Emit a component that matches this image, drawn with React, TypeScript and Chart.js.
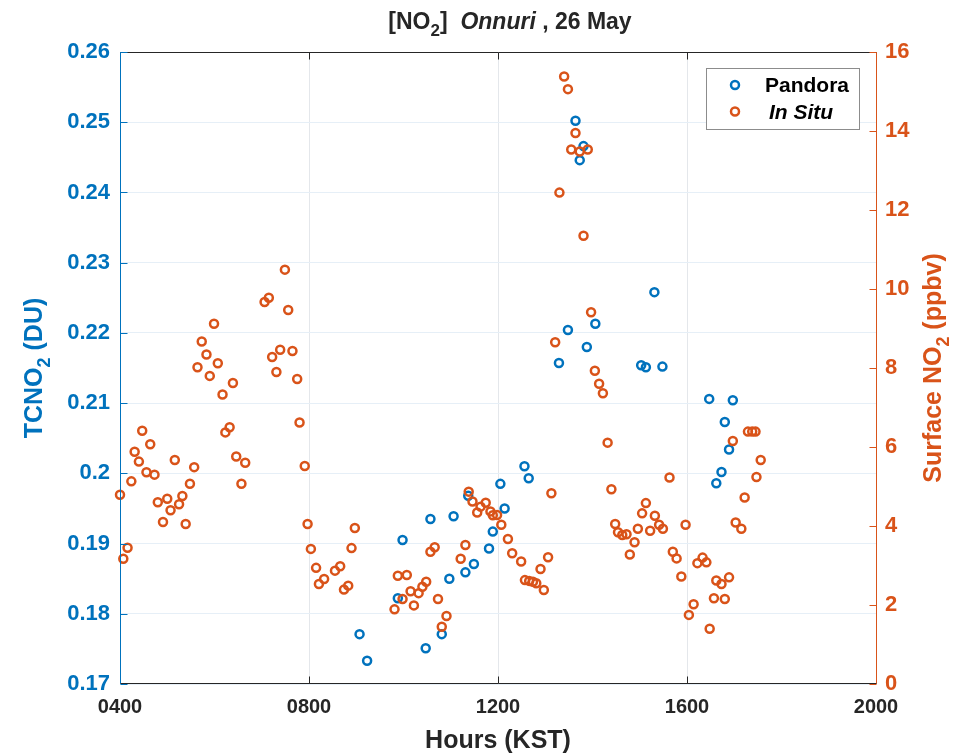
import React, { useEffect, useRef } from "react";
import { Chart, registerables } from "chart.js";

Chart.register(...registerables);

const BLUE = "#0072BD";
const ORANGE = "#D95319";
const DARK = "#262626";
const FONT = '"Liberation Sans", Arial, Helvetica, sans-serif';

// Pandora total-column NO2 (DU) vs. hour of day (KST)
const pandoraHours = [
  9.07, 9.23, 9.88, 9.98, 10.47, 10.57, 10.81, 10.97, 11.06, 11.31, 11.37, 11.49,
  11.81, 11.89, 12.05, 12.14, 12.56, 12.65, 13.29, 13.48, 13.64, 13.73, 13.81, 13.88,
  14.06, 15.03, 15.13, 15.31, 15.48, 16.47, 16.62, 16.73, 16.8, 16.89, 16.97,
];
const pandoraTcno2 = [
  0.1771, 0.1733, 0.1822, 0.1905, 0.1751, 0.1935, 0.1771, 0.185, 0.1939, 0.1859, 0.1968, 0.1871,
  0.1893, 0.1917, 0.1985, 0.195, 0.201, 0.1993, 0.2157, 0.2204, 0.2502, 0.2446, 0.2466, 0.218,
  0.2213, 0.2154, 0.2151, 0.2258, 0.2152, 0.2106, 0.1986, 0.2002, 0.2073, 0.2034, 0.2104,
];

// In situ surface NO2 (ppbv) vs. hour of day (KST)
const inSituHours = [
  4.0, 4.07, 4.16, 4.24, 4.31, 4.4, 4.47, 4.56, 4.64, 4.73, 4.8, 4.91, 5.0, 5.07, 5.16, 5.25,
  5.32, 5.39, 5.48, 5.57, 5.64, 5.73, 5.83, 5.9, 5.99, 6.07, 6.17, 6.23, 6.32, 6.39, 6.46, 6.57,
  6.65, 7.06, 7.15, 7.22, 7.31, 7.39, 7.49, 7.56, 7.65, 7.75, 7.8, 7.91, 7.97, 8.04, 8.15, 8.21,
  8.32, 8.55, 8.66, 8.74, 8.83, 8.9, 8.97, 9.81, 9.88, 9.98, 10.07, 10.15, 10.22, 10.32, 10.4,
  10.48, 10.57, 10.66, 10.73, 10.81, 10.91, 11.21, 11.31, 11.38, 11.46, 11.56, 11.63, 11.74,
  11.84, 11.89, 11.98, 12.07, 12.21, 12.3, 12.49, 12.57, 12.66, 12.74, 12.81, 12.9, 12.97,
  13.06, 13.13, 13.21, 13.3, 13.4, 13.48, 13.55, 13.64, 13.73, 13.81, 13.9, 13.97, 14.05,
  14.14, 14.22, 14.32, 14.4, 14.48, 14.54, 14.63, 14.72, 14.79, 14.89, 14.96, 15.05, 15.13,
  15.22, 15.32, 15.41, 15.49, 15.63, 15.7, 15.78, 15.88, 15.97, 16.04, 16.14, 16.22, 16.33,
  16.41, 16.48, 16.57, 16.62, 16.73, 16.8, 16.89, 16.97, 17.03, 17.15, 17.22, 17.29, 17.38,
  17.45, 17.47, 17.56,
];
const inSituNo2 = [
  4.79, 3.17, 3.45, 5.13, 5.88, 5.63, 6.41, 5.36, 6.07, 5.3, 4.6, 4.1, 4.69, 4.4, 5.67, 4.55,
  4.76, 4.05, 5.07, 5.49, 8.02, 8.67, 8.34, 7.8, 9.12, 8.12, 7.33, 6.37, 6.5, 7.62, 5.76, 5.07,
  5.6, 9.67, 9.78, 8.28, 7.9, 8.46, 10.49, 9.47, 8.43, 7.72, 6.62, 5.52, 4.05, 3.42, 2.94, 2.53,
  2.66, 2.87, 2.98, 2.39, 2.49, 3.44, 3.95, 1.89, 2.74, 2.15, 2.76, 2.35, 1.99, 2.3, 2.46,
  2.59, 3.35, 3.46, 2.15, 1.45, 1.72, 3.17, 3.52, 4.87, 4.62, 4.34, 4.49, 4.59,
  4.37, 4.27, 4.28, 4.03, 3.67, 3.31, 3.1, 2.63, 2.61, 2.59, 2.55, 2.91, 2.38,
  3.21, 4.83, 8.65, 12.44, 15.38, 15.06, 13.53, 13.95, 13.48, 11.35, 13.53, 9.41, 7.93,
  7.6, 7.36, 6.11, 4.93, 4.05, 3.84, 3.77, 3.79, 3.28, 3.59, 3.93, 4.32, 4.58,
  3.88, 4.26, 4.03, 3.93, 5.23, 3.35, 3.18, 2.72, 4.03, 1.75, 2.02, 3.06, 3.2,
  3.08, 1.4, 2.17, 2.62, 2.53, 2.15, 2.7, 6.15, 4.09, 3.93, 4.72, 6.39, 6.39,
  6.39, 5.24, 5.67,
];

const hourTicks = [4, 8, 12, 16, 20];
const hourTickLabels = ["0400", "0800", "1200", "1600", "2000"];
const tcno2Ticks = [0.17, 0.18, 0.19, 0.2, 0.21, 0.22, 0.23, 0.24, 0.25, 0.26];
const no2Ticks = [0, 2, 4, 6, 8, 10, 12, 14, 16];

type Seg = { text: string; italic?: boolean; sub?: boolean };

function drawRich(
  ctx: CanvasRenderingContext2D,
  segs: Seg[],
  x: number,
  y: number,
  size: number,
  color: string,
  align: "center" | "left"
) {
  const fontOf = (s: Seg) =>
    `${s.italic ? "italic " : ""}bold ${s.sub ? Math.round(size * 0.72) : size}px ${FONT}`;
  let total = 0;
  for (const s of segs) {
    ctx.font = fontOf(s);
    total += ctx.measureText(s.text).width;
  }
  let cx = align === "center" ? x - total / 2 : x;
  ctx.textAlign = "left";
  ctx.textBaseline = "alphabetic";
  ctx.fillStyle = color;
  for (const s of segs) {
    ctx.font = fontOf(s);
    ctx.fillText(s.text, cx, s.sub ? y + size * 0.32 : y);
    cx += ctx.measureText(s.text).width;
  }
}

function circle(ctx: CanvasRenderingContext2D, x: number, y: number, color: string) {
  ctx.beginPath();
  ctx.arc(x, y, 4, 0, Math.PI * 2);
  ctx.strokeStyle = color;
  ctx.lineWidth = 2.5;
  ctx.stroke();
}

const framePlugin = {
  id: "frameAndLabels",
  afterDraw(chart: any) {
    const { ctx, chartArea: a, scales } = chart;
    const L = Math.round(a.left) + 0.5;
    const R = Math.round(a.right) + 0.5;
    const T = Math.round(a.top) + 0.5;
    const B = Math.round(a.bottom) - 0.5;
    const tick = 7;
    ctx.save();
    ctx.lineWidth = 1;

    // x ticks, pointing inward at bottom and top
    ctx.strokeStyle = DARK;
    for (const v of hourTicks) {
      const px = Math.round(scales.x.getPixelForValue(v)) + 0.5;
      ctx.beginPath();
      ctx.moveTo(px, B);
      ctx.lineTo(px, B - tick);
      ctx.moveTo(px, T);
      ctx.lineTo(px, T + tick);
      ctx.stroke();
    }
    ctx.beginPath();
    ctx.moveTo(L, T);
    ctx.lineTo(R, T);
    ctx.moveTo(L, B);
    ctx.lineTo(R, B);
    ctx.stroke();

    // left axis
    ctx.strokeStyle = BLUE;
    ctx.beginPath();
    ctx.moveTo(L, T);
    ctx.lineTo(L, B);
    for (const v of tcno2Ticks) {
      const py = Math.round(scales.yL.getPixelForValue(v)) + 0.5;
      ctx.moveTo(L, py);
      ctx.lineTo(L + tick, py);
    }
    ctx.stroke();

    // right axis
    ctx.strokeStyle = ORANGE;
    ctx.beginPath();
    ctx.moveTo(R, T);
    ctx.lineTo(R, B);
    for (const v of no2Ticks) {
      const py = Math.round(scales.yR.getPixelForValue(v)) + 0.5;
      ctx.moveTo(R, py);
      ctx.lineTo(R - tick, py);
    }
    ctx.stroke();

    const midX = (a.left + a.right) / 2;
    const midY = (a.top + a.bottom) / 2;

    // title
    drawRich(
      ctx,
      [
        { text: "[NO" },
        { text: "2", sub: true },
        { text: "]  " },
        { text: "Onnuri", italic: true },
        { text: " , 26 May" },
      ],
      510,
      29,
      23,
      DARK,
      "center"
    );

    // x axis title
    drawRich(ctx, [{ text: "Hours (KST)" }], midX, 748, 25, DARK, "center");

    // left axis title
    ctx.save();
    ctx.translate(42, midY);
    ctx.rotate(-Math.PI / 2);
    drawRich(
      ctx,
      [{ text: "TCNO" }, { text: "2", sub: true }, { text: " (DU)" }],
      0,
      0,
      25,
      BLUE,
      "center"
    );
    ctx.restore();

    // right axis title
    ctx.save();
    ctx.translate(941, midY);
    ctx.rotate(-Math.PI / 2);
    drawRich(
      ctx,
      [{ text: "Surface NO" }, { text: "2", sub: true }, { text: " (ppbv)" }],
      0,
      0,
      25,
      ORANGE,
      "center"
    );
    ctx.restore();

    // legend
    const lx = 706.5;
    const ly = 68.5;
    ctx.fillStyle = "#ffffff";
    ctx.fillRect(lx, ly, 153, 61);
    ctx.strokeStyle = "#8c8c8c";
    ctx.lineWidth = 1;
    ctx.strokeRect(lx, ly, 153, 61);
    circle(ctx, 735, 85, BLUE);
    circle(ctx, 735, 111.5, ORANGE);
    drawRich(ctx, [{ text: "Pandora" }], 765, 92, 21, "#000000", "left");
    drawRich(ctx, [{ text: "In Situ", italic: true }], 769, 119, 21, "#000000", "left");

    ctx.restore();
  },
};

export default function App() {
  const canvasRef = useRef<HTMLCanvasElement | null>(null);

  useEffect(() => {
    if (!canvasRef.current) return;
    const chart = new Chart(canvasRef.current, {
      type: "scatter",
      data: {
        datasets: [
          {
            label: "In Situ",
            data: inSituHours.map((h, i) => ({ x: h, y: inSituNo2[i] })),
            yAxisID: "yR",
            borderColor: ORANGE,
            backgroundColor: "rgba(0,0,0,0)",
            pointRadius: 4,
            pointHoverRadius: 4,
            pointBorderWidth: 2.5,
            clip: false,
            order: 0,
          },
          {
            label: "Pandora",
            data: pandoraHours.map((h, i) => ({ x: h, y: pandoraTcno2[i] })),
            yAxisID: "yL",
            borderColor: BLUE,
            backgroundColor: "rgba(0,0,0,0)",
            pointRadius: 4,
            pointHoverRadius: 4,
            pointBorderWidth: 2.5,
            clip: false,
            order: 1,
          },
        ],
      },
      options: {
        animation: false,
        responsive: false,
        maintainAspectRatio: false,
        events: [],
        layout: { padding: { top: 52, left: 0, right: 0, bottom: 0 } },
        plugins: {
          legend: { display: false },
          title: { display: false },
          tooltip: { enabled: false },
        },
        scales: {
          x: {
            type: "linear",
            position: "bottom",
            min: 4,
            max: 20,
            afterBuildTicks: (s: any) => {
              s.ticks = hourTicks.map((v) => ({ value: v }));
            },
            afterFit: (s: any) => {
              s.height = 71;
            },
            ticks: {
              autoSkip: false,
              maxRotation: 0,
              padding: 11,
              color: DARK,
              font: { family: FONT, size: 20, weight: "bold" },
              callback: (v: any) => {
                const i = hourTicks.indexOf(Number(v));
                return i >= 0 ? hourTickLabels[i] : "";
              },
            },
            grid: { color: "#e4e7eb", lineWidth: 1, drawTicks: false },
            border: { display: false },
          },
          yL: {
            type: "linear",
            position: "left",
            min: 0.17,
            max: 0.26,
            afterBuildTicks: (s: any) => {
              s.ticks = tcno2Ticks.map((v) => ({ value: v }));
            },
            afterFit: (s: any) => {
              s.width = 120;
            },
            ticks: {
              autoSkip: false,
              padding: 10,
              color: BLUE,
              font: { family: FONT, size: 22, weight: "bold" },
              callback: (v: any) => String(parseFloat(Number(v).toFixed(2))),
            },
            grid: { color: "#e6eff7", lineWidth: 1, drawTicks: false },
            border: { display: false },
          },
          yR: {
            type: "linear",
            position: "right",
            min: 0,
            max: 16,
            afterBuildTicks: (s: any) => {
              s.ticks = no2Ticks.map((v) => ({ value: v }));
            },
            afterFit: (s: any) => {
              s.width = 87;
            },
            ticks: {
              autoSkip: false,
              padding: 9,
              color: ORANGE,
              font: { family: FONT, size: 22, weight: "bold" },
              callback: (v: any) => String(v),
            },
            grid: { display: false, drawTicks: false },
            border: { display: false },
          },
        },
      } as any,
      plugins: [framePlugin],
    });
    return () => chart.destroy();
  }, []);

  return (
    <div style={{ position: "absolute", left: 0, top: 0, width: 963, height: 755, background: "#fff" }}>
      <canvas ref={canvasRef} width={963} height={755} style={{ display: "block" }} />
    </div>
  );
}
